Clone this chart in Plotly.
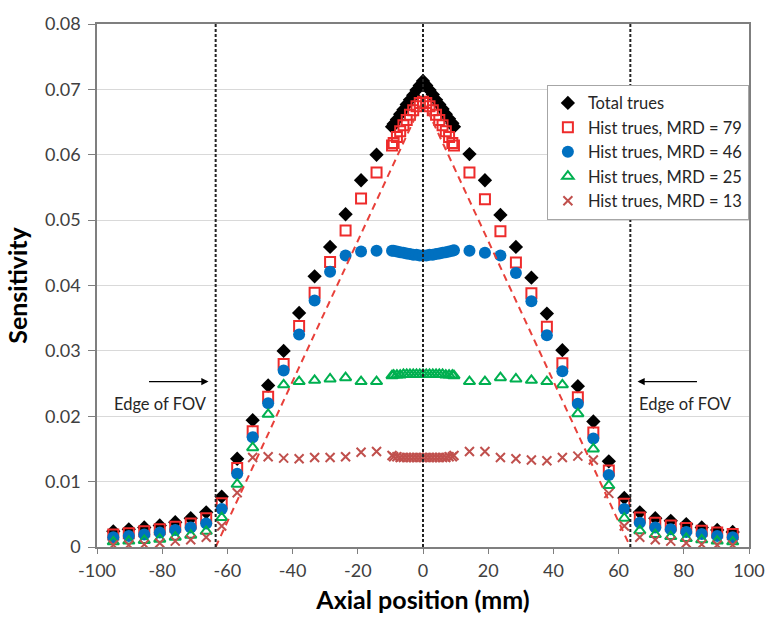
import plotly.graph_objects as go

# ---------------- data ----------------
axial_mm = [-95, -90.25, -85.5, -80.75, -76, -71.25, -66.5, -61.75, -57, -52.25,
            -47.5, -42.75, -38, -33.25, -28.5, -23.75, -19, -14.25, -9.5,
            -9, -8, -7, -6, -5, -4, -3, -2, -1, 0, 1, 2, 3, 4, 5, 6, 7, 8, 9,
            9.5, 14.25, 19, 23.75, 28.5, 33.25, 38, 42.75, 47.5, 52.25, 57,
            61.75, 66.5, 71.25, 76, 80.75, 85.5, 90.25, 95]

total_trues = [0.0024, 0.0027, 0.0030, 0.0033, 0.0038, 0.0044, 0.0053, 0.0077, 0.0135, 0.0194,
               0.0247, 0.0300, 0.0358, 0.0414, 0.0459, 0.0509, 0.0561, 0.0600, 0.0643,
               0.0647, 0.0654, 0.0662, 0.0669, 0.0677, 0.0684, 0.0691, 0.0699, 0.0706, 0.0713,
               0.0706, 0.0699, 0.0692, 0.0684, 0.0677, 0.0670, 0.0662, 0.0655, 0.0648,
               0.0643, 0.0601, 0.0561, 0.0508, 0.0459, 0.0412, 0.0357, 0.0301, 0.0246, 0.0192, 0.0131,
               0.0075, 0.0053, 0.0044, 0.0040, 0.0035, 0.0030, 0.0026, 0.0023]

hist_mrd79 = [0.0019, 0.0021, 0.0024, 0.0027, 0.0031, 0.0036, 0.0044, 0.0067, 0.0121, 0.0177,
              0.0230, 0.0280, 0.0338, 0.0389, 0.0436, 0.0484, 0.0533, 0.0573, 0.0614,
              0.0618, 0.0627, 0.0636, 0.0645, 0.0653, 0.0661, 0.0668, 0.0674, 0.0679, 0.0681,
              0.0679, 0.0674, 0.0668, 0.0661, 0.0653, 0.0645, 0.0636, 0.0627, 0.0618,
              0.0614, 0.0573, 0.0532, 0.0483, 0.0435, 0.0388, 0.0337, 0.0281, 0.0229, 0.0175, 0.0117,
              0.0066, 0.0045, 0.0037, 0.0033, 0.0029, 0.0025, 0.0022, 0.0020]

hist_mrd46 = [0.0015, 0.0017, 0.0019, 0.0022, 0.0026, 0.0030, 0.0036, 0.0058, 0.0112, 0.0168,
              0.0220, 0.0270, 0.0325, 0.0377, 0.0421, 0.0446, 0.0452, 0.0453, 0.0453,
              0.0453, 0.0452, 0.0451, 0.0450, 0.0449, 0.0448, 0.0447, 0.0447, 0.0446, 0.0446,
              0.0446, 0.0447, 0.0447, 0.0448, 0.0449, 0.0450, 0.0451, 0.0452, 0.0453,
              0.0454, 0.0453, 0.0450, 0.0446, 0.0419, 0.0376, 0.0324, 0.0269, 0.0219, 0.0166, 0.0110,
              0.0058, 0.0037, 0.0030, 0.0027, 0.0023, 0.0020, 0.0017, 0.0015]

hist_mrd25 = [0.0008, 0.0009, 0.0010, 0.0012, 0.0015, 0.0018, 0.0024, 0.0045, 0.0096, 0.0152,
              0.0203, 0.0248, 0.0253, 0.0255, 0.0257, 0.0259, 0.0253, 0.0253, 0.0262,
              0.0263, 0.0263, 0.0263, 0.0264, 0.0264, 0.0264, 0.0264, 0.0264, 0.0264, 0.0264,
              0.0264, 0.0264, 0.0264, 0.0264, 0.0264, 0.0264, 0.0263, 0.0263, 0.0263,
              0.0262, 0.0253, 0.0253, 0.0259, 0.0257, 0.0255, 0.0253, 0.0248, 0.0204, 0.0150, 0.0094,
              0.0044, 0.0025, 0.0019, 0.0016, 0.0013, 0.0011, 0.0009, 0.0008]

hist_mrd13 = [0.0003, 0.0003, 0.0004, 0.0006, 0.0009, 0.0011, 0.0015, 0.0032, 0.0083, 0.0137,
              0.0138, 0.0136, 0.0135, 0.0137, 0.0137, 0.0138, 0.0145, 0.0146, 0.0140,
              0.0138, 0.0138, 0.0137, 0.0137, 0.0137, 0.0137, 0.0137, 0.0137, 0.0137, 0.0137,
              0.0137, 0.0137, 0.0137, 0.0137, 0.0137, 0.0137, 0.0137, 0.0138, 0.0138,
              0.0140, 0.0146, 0.0146, 0.0137, 0.0135, 0.0133, 0.0132, 0.0137, 0.0139, 0.0133, 0.0082,
              0.0032, 0.0015, 0.0011, 0.0009, 0.0006, 0.0004, 0.0003, 0.0003]

# geometric reference: FOV edges and the ideal triangular profile
fov_edges = [-63.6, 63.6]
centre_line = [0]
triangle_x = [-63.6, 0, 63.6]
triangle_y = [0, 0.0683, 0]
y_span = [0, 0.08]

x_ticks = [-100, -80, -60, -40, -20, 0, 20, 40, 60, 80, 100]
x_tick_text = ["-100", "-80", "-60", "-40", "-20", "0", "20", "40", "60", "80", "100"]
y_ticks = [0, 0.01, 0.02, 0.03, 0.04, 0.05, 0.06, 0.07, 0.08]
y_tick_text = ["0", "0.01", "0.02", "0.03", "0.04", "0.05", "0.06", "0.07", "0.08"]

FONT = "Lato"

fig = go.Figure()

fig.add_trace(go.Scatter(x=axial_mm, y=total_trues, mode="markers", name="Total trues",
                         marker=dict(symbol="diamond", size=11, color="black")))
fig.add_trace(go.Scatter(x=axial_mm, y=hist_mrd79, mode="markers", name="Hist trues, MRD = 79",
                         marker=dict(symbol="square-open", size=10, color="#EE2B2B",
                                     line=dict(width=2, color="#EE2B2B"))))
fig.add_trace(go.Scatter(x=axial_mm, y=hist_mrd46, mode="markers", name="Hist trues, MRD = 46",
                         marker=dict(symbol="circle", size=12, color="#0070C0")))
fig.add_trace(go.Scatter(x=axial_mm, y=hist_mrd25, mode="markers", name="Hist trues, MRD = 25",
                         marker=dict(symbol="triangle-up-open", size=10, color="#00B050",
                                     line=dict(width=2, color="#00B050"))))
fig.add_trace(go.Scatter(x=axial_mm, y=hist_mrd13, mode="markers", name="Hist trues, MRD = 13",
                         marker=dict(symbol="x-thin", size=9, color="#C0504D",
                                     line=dict(width=2, color="#C0504D"))))

# ideal triangle (red dashed)
fig.add_trace(go.Scatter(x=triangle_x, y=triangle_y, mode="lines", showlegend=False,
                         hoverinfo="skip",
                         line=dict(color="#E8403A", width=2, dash="7px,5px")))

# vertical dotted lines (FOV edges + centre)
for xv in fov_edges + centre_line:
    fig.add_trace(go.Scatter(x=[xv, xv], y=y_span, mode="lines", showlegend=False,
                             hoverinfo="skip",
                             line=dict(color="#222222", width=2, dash="3px,2px")))

# Edge of FOV annotations
arrow_y = 0.0253
label_y = 0.0218
fig.add_annotation(x=-65.8, y=arrow_y, ax=-84.5, ay=arrow_y, xref="x", yref="y",
                   axref="x", ayref="y", text="", showarrow=True, arrowhead=2,
                   arrowsize=1.2, arrowwidth=1.2, arrowcolor="black")
fig.add_annotation(x=-80.5, y=label_y, xref="x", yref="y", text="Edge of FOV",
                   showarrow=False, font=dict(family=FONT, size=16.5, color="#262626"))
fig.add_annotation(x=65.8, y=arrow_y, ax=84.5, ay=arrow_y, xref="x", yref="y",
                   axref="x", ayref="y", text="", showarrow=True, arrowhead=2,
                   arrowsize=1.2, arrowwidth=1.2, arrowcolor="black")
fig.add_annotation(x=80.5, y=label_y, xref="x", yref="y", text="Edge of FOV",
                   showarrow=False, font=dict(family=FONT, size=16.5, color="#262626"))

fig.update_layout(
    width=777, height=622,
    margin=dict(l=97, r=19, t=16, b=74),
    paper_bgcolor="white", plot_bgcolor="white",
    font=dict(family=FONT, size=15, color="#404040"),
    showlegend=True,
    legend=dict(x=0.69, y=0.884, xanchor="left", yanchor="top",
                bgcolor="white", bordercolor="#A6A6A6", borderwidth=1,
                font=dict(family=FONT, size=16.5, color="#262626"),
                itemwidth=30, tracegroupgap=0),
    xaxis=dict(range=[-100, 100], tickvals=x_ticks, ticktext=x_tick_text,
               showgrid=False, zeroline=False, showline=True, mirror=True,
               linecolor="#7F7F7F", linewidth=1.5, ticks="outside", ticklen=5,
               tickcolor="#7F7F7F", ticklabelstandoff=2,
               tickfont=dict(family=FONT, size=18, color="#404040"),
               title=dict(text="<b>Axial position (mm)</b>", standoff=11,
                          font=dict(family=FONT, size=25, color="black"))),
    yaxis=dict(range=[0, 0.08], tickvals=y_ticks, ticktext=y_tick_text,
               showgrid=True, gridcolor="#D9D9D9", gridwidth=1, zeroline=False,
               showline=True, mirror=True, linecolor="#7F7F7F", linewidth=1.5,
               ticks="outside", ticklen=7, tickcolor="#7F7F7F", ticklabelstandoff=4,
               tickfont=dict(family=FONT, size=18, color="#404040"),
               title=dict(text="<b>Sensitivity</b>", standoff=10,
                          font=dict(family=FONT, size=25, color="black"))),
)

fig.write_html("out.html")
